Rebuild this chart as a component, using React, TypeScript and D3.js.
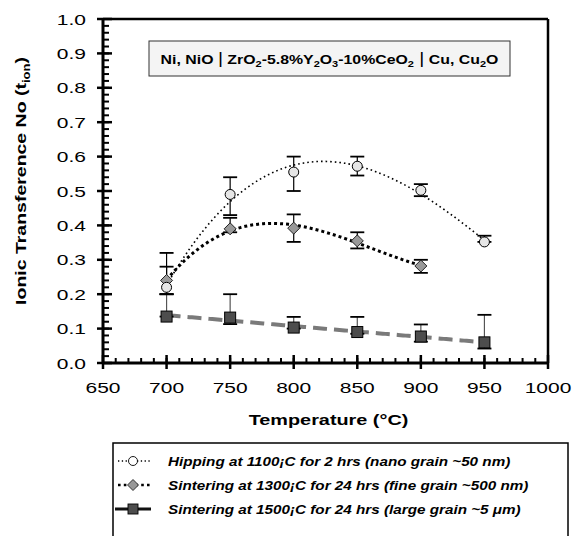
import React from "react";
import * as d3 from "d3";

const temps = [700, 750, 800, 850, 900, 950];
const hipMean = [0.22, 0.49, 0.555, 0.572, 0.502, 0.352];
const hipUpper = [0.32, 0.54, 0.6, 0.6, 0.52, 0.37];
const hipLower = [0.2, 0.43, 0.5, 0.545, 0.485, 0.352];

const sinTemps = [700, 750, 800, 850, 900];
const sinMean = [0.24, 0.39, 0.392, 0.355, 0.282];
const sinUpper = [0.28, 0.422, 0.432, 0.38, 0.3];
const sinLower = [0.2, 0.38, 0.352, 0.333, 0.262];

const lgMean = [0.135, 0.132, 0.103, 0.09, 0.077, 0.06];
const lgUpper = [0.2, 0.2, 0.134, 0.134, 0.112, 0.14];
const lgLower = [0.135, 0.113, 0.1, 0.085, 0.062, 0.042];

const xTicks = [650, 700, 750, 800, 850, 900, 950, 1000];
const yTicks = [0, 0.1, 0.2, 0.3, 0.4, 0.5, 0.6, 0.7, 0.8, 0.9, 1.0];

const legendLabels = [
  "Hipping at 1100\u00a1C  for 2 hrs (nano grain ~50 nm)",
  "Sintering at 1300\u00a1C for 24 hrs (fine grain ~500 nm)",
  "Sintering at 1500\u00a1C for 24 hrs (large grain ~5 \u03bcm)",
];

function polyFit(xs: number[], ys: number[], order: number) {
  const n = order + 1;
  const nx = xs.map((x) => (x - 800) / 100);
  const A: number[][] = Array.from({ length: n }, () => Array(n + 1).fill(0));
  for (let i = 0; i < nx.length; i++) {
    for (let r = 0; r < n; r++) {
      for (let c = 0; c < n; c++) A[r][c] += Math.pow(nx[i], r + c);
      A[r][n] += ys[i] * Math.pow(nx[i], r);
    }
  }
  for (let p = 0; p < n; p++) {
    let m = p;
    for (let r = p + 1; r < n; r++) if (Math.abs(A[r][p]) > Math.abs(A[m][p])) m = r;
    [A[p], A[m]] = [A[m], A[p]];
    for (let r = 0; r < n; r++) {
      if (r === p) continue;
      const f = A[r][p] / A[p][p];
      for (let c = p; c <= n; c++) A[r][c] -= f * A[p][c];
    }
  }
  const coef = A.map((row, i) => row[n] / row[i]);
  return (x: number) => {
    const t = (x - 800) / 100;
    return coef.reduce((s, c, i) => s + c * Math.pow(t, i), 0);
  };
}

const FONT = "'Liberation Sans', Arial, Helvetica, sans-serif";

export default function App() {
  const L = 103, R = 548, T = 19, B = 363;
  const x = d3.scaleLinear().domain([650, 1000]).range([L, R]);
  const y = d3.scaleLinear().domain([0, 1]).range([B, T]);

  const fHip = polyFit(temps, hipMean, 3);
  const fSin = polyFit(sinTemps, sinMean, 3);
  const fLg = polyFit(temps, lgMean, 1);

  const curvePath = (f: (v: number) => number, x0: number, x1: number) => {
    const pts = d3.range(x0, x1 + 0.01, 2);
    return d3
      .line<number>()
      .x((d) => x(d))
      .y((d) => y(f(d)))(pts) as string;
  };

  const minorY = d3.range(0, 1.0001, 0.02);
  const minorX = d3.range(650, 1000.01, 10);

  const errBar = (
    tx: number,
    lo: number,
    hi: number,
    key: string,
    color = "#000",
    w = 1.2
  ) => (
    <g key={key}>
      <line x1={x(tx)} x2={x(tx)} y1={y(lo)} y2={y(hi)} stroke={color} strokeWidth={w} />
      <line x1={x(tx) - 7} x2={x(tx) + 7} y1={y(hi)} y2={y(hi)} stroke="#000" strokeWidth={1.8} />
      <line x1={x(tx) - 7} x2={x(tx) + 7} y1={y(lo)} y2={y(lo)} stroke="#000" strokeWidth={1.8} />
    </g>
  );

  const legendY = [466, 490, 514];
  const SX = 1.4; // horizontal stretch of the reference's type

  return (
    <svg
      width={577}
      height={536}
      style={{ position: "absolute", left: 0, top: 0, fontFamily: FONT }}
    >
      <rect x={0} y={0} width={577} height={536} fill="#fff" />

      {/* annotation box */}
      <rect x={149} y={41} width={361} height={35} fill="#f4f4f4" stroke="#333" strokeWidth={1} />
      <text
        transform={`translate(329.5,63.5) scale(1.22,1)`}
        textAnchor="middle"
        fontSize={13}
        fontWeight="bold"
        fill="#000"
      >
        <tspan>Ni, NiO </tspan>
        <tspan fontWeight="normal" fontSize={16}>|</tspan>
        <tspan> ZrO</tspan>
        <tspan fontSize={9} dy={3}>2</tspan>
        <tspan dy={-3}>-5.8%Y</tspan>
        <tspan fontSize={9} dy={3}>2</tspan>
        <tspan dy={-3}>O</tspan>
        <tspan fontSize={9} dy={3}>3</tspan>
        <tspan dy={-3}>-10%CeO</tspan>
        <tspan fontSize={9} dy={3}>2</tspan>
        <tspan dy={-3} fontWeight="normal" fontSize={16}> |</tspan>
        <tspan> Cu, Cu</tspan>
        <tspan fontSize={9} dy={3}>2</tspan>
        <tspan dy={-3}>O</tspan>
      </text>

      {/* trend lines */}
      <path d={curvePath(fLg, 700, 950)} fill="none" stroke="#7a7a7a" strokeWidth={4} strokeDasharray="14,7" />
      <path d={curvePath(fSin, 700, 900)} fill="none" stroke="#000" strokeWidth={3} strokeDasharray="3,3" />
      <path d={curvePath(fHip, 700, 950)} fill="none" stroke="#000" strokeWidth={1.6} strokeDasharray="1.6,3" />

      {/* error bars */}
      {temps.map((t, i) => errBar(t, lgLower[i], lgUpper[i], "le" + i, "#555", 1.2))}
      {sinTemps.map((t, i) => errBar(t, sinLower[i], sinUpper[i], "se" + i))}
      {temps.map((t, i) => errBar(t, hipLower[i], hipUpper[i], "he" + i))}

      {/* markers */}
      {temps.map((t, i) => (
        <rect
          key={"lm" + i}
          x={x(t) - 5.5}
          y={y(lgMean[i]) - 5.5}
          width={11}
          height={11}
          fill="#4d4d4d"
          stroke="#000"
          strokeWidth={1}
        />
      ))}
      {sinTemps.map((t, i) => (
        <path
          key={"sm" + i}
          d={`M${x(t)},${y(sinMean[i]) - 6}L${x(t) + 6},${y(sinMean[i])}L${x(t)},${y(sinMean[i]) + 6}L${x(t) - 6},${y(sinMean[i])}Z`}
          fill="#999"
          stroke="#222"
          strokeWidth={1}
        />
      ))}
      {temps.map((t, i) => (
        <circle key={"hm" + i} cx={x(t)} cy={y(hipMean[i])} r={5} fill="#e6e6e6" stroke="#000" strokeWidth={1} />
      ))}

      {/* axes frame */}
      <line x1={L} x2={R} y1={T} y2={T} stroke="#000" strokeWidth={2.5} />
      <line x1={R} x2={R} y1={T} y2={B} stroke="#000" strokeWidth={2.5} />

      {/* minor ticks */}
      {minorY.map((v, i) => (
        <line key={"my" + i} x1={L} x2={L + 6} y1={y(v)} y2={y(v)} stroke="#000" strokeWidth={2} />
      ))}
      {minorX.map((v, i) => (
        <line key={"mx" + i} x1={x(v)} x2={x(v)} y1={B} y2={B - 5} stroke="#000" strokeWidth={2} />
      ))}
      {/* major ticks */}
      {yTicks.map((v, i) => (
        <line key={"Y" + i} x1={L - 6} x2={L + 9} y1={y(v)} y2={y(v)} stroke="#000" strokeWidth={2.5} />
      ))}
      {xTicks.map((v, i) => (
        <line key={"X" + i} x1={x(v)} x2={x(v)} y1={B + 6} y2={B - 8} stroke="#000" strokeWidth={2.5} />
      ))}
      <line x1={L} x2={L} y1={T - 1} y2={B + 1} stroke="#000" strokeWidth={3} />
      <line x1={L - 1} x2={R + 1} y1={B} y2={B} stroke="#000" strokeWidth={3} />

      {/* tick labels */}
      {yTicks.map((v, i) => (
        <text
          key={"yl" + i}
          transform={`translate(${L - 17},${y(v) + 5.5}) scale(${SX},1)`}
          textAnchor="end"
          fontSize={15}
          fill="#000"
        >
          {v.toFixed(1)}
        </text>
      ))}
      {xTicks.map((v, i) => (
        <text
          key={"xl" + i}
          transform={`translate(${x(v)},393) scale(${SX},1)`}
          textAnchor="middle"
          fontSize={15}
          fill="#000"
        >
          {v}
        </text>
      ))}

      {/* axis titles */}
      <text
        transform={`translate(${(L + R) / 2 + 3},425) scale(1.28,1)`}
        textAnchor="middle"
        fontSize={15.5}
        fontWeight="bold"
      >
        Temperature (°C)
      </text>
      <text
        transform={`translate(26,${(T + B) / 2 - 10}) rotate(-90) scale(1.3,1)`}
        textAnchor="middle"
        fontSize={15}
        fontWeight="bold"
      >
        <tspan>Ionic Transference No (t</tspan>
        <tspan fontSize={10} dy={4}>ion</tspan>
        <tspan dy={-4}>)</tspan>
      </text>

      {/* legend */}
      <rect x={113} y={443} width={455} height={110} fill="#fff" stroke="#000" strokeWidth={1.5} />
      {/* entry 1 */}
      <line x1={118} x2={150} y1={legendY[0] - 5} y2={legendY[0] - 5} stroke="#000" strokeWidth={1.3} strokeDasharray="1.3,2.5" />
      <circle cx={133} cy={legendY[0] - 5} r={4.5} fill="#fff" stroke="#000" strokeWidth={0.9} />
      {/* entry 2 */}
      <line x1={118} x2={150} y1={legendY[1] - 5} y2={legendY[1] - 5} stroke="#000" strokeWidth={2.6} strokeDasharray="2.6,3.2" />
      <path
        d={`M133,${legendY[1] - 10.5}L138.5,${legendY[1] - 5}L133,${legendY[1] + 0.5}L127.5,${legendY[1] - 5}Z`}
        fill="#999"
        stroke="#222"
        strokeWidth={0.9}
      />
      {/* entry 3 */}
      <line x1={115} x2={151} y1={legendY[2] - 5} y2={legendY[2] - 5} stroke="#111" strokeWidth={3} />
      <rect x={128} y={legendY[2] - 10} width={10} height={10} fill="#4d4d4d" stroke="#000" strokeWidth={0.9} />
      {legendLabels.map((s, i) => (
        <text
          key={"lg" + i}
          transform={`translate(168,${legendY[i]}) scale(1.13,1)`}
          fontSize={13.5}
          fontWeight="bold"
          fontStyle="italic"
        >
          {s}
        </text>
      ))}
    </svg>
  );
}
